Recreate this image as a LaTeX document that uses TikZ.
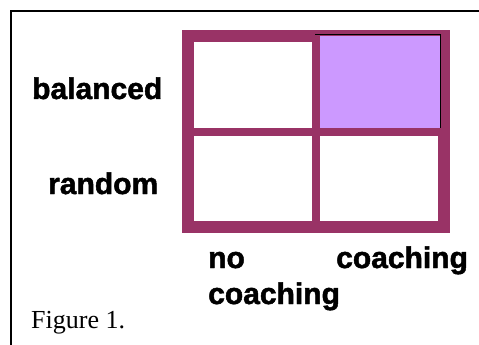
\documentclass[tikz,border=0pt]{standalone}
\usepackage{fontspec}
\setmainfont{Liberation Serif}
\newfontfamily\lblfont[BoldFeatures={FakeBold=1.6}]{Liberation Sans}
\definecolor{maroon}{HTML}{993366}
\definecolor{lilac}{HTML}{CC99FF}
\begin{document}
\begin{tikzpicture}[x=1pt,y=-1pt,
  lbl/.style={inner sep=0pt,anchor=base west,font=\lblfont\bfseries\fontsize{30}{32}\selectfont},
  figcaption/.style={inner sep=0pt,anchor=base west,font=\fontsize{26}{28}\selectfont}]
\useasboundingbox (0,0) rectangle (479,345);
\fill[white] (0,0) rectangle (479,345);
% page frame
\draw[line width=2pt] (480,11) -- (11,11) -- (11,346);
% grid
\fill[maroon] (182,30) rectangle (450,233);
\fill[white] (194,42) rectangle (312,128);
\fill[lilac] (320,36) rectangle (440,128);
\fill[white] (194,136) rectangle (312,221);
\fill[white] (320,136) rectangle (438,221);
\draw[line width=1pt] (315,35) -- (441,35);
\draw[line width=1pt] (440,35) -- (440,128);
% labels
\node[lbl] (bal) at (32,99) {balanced};
\node[lbl] (rnd) at (48,194) {random};
\node[lbl] (no) at (208,268) {no};
\node[lbl] (coach1) at (336,268) {coaching};
\node[lbl] (coach2) at (208,304) {coaching};
\node[figcaption] (fig) at (31,328) {Figure 1.};
\end{tikzpicture}
\end{document}
